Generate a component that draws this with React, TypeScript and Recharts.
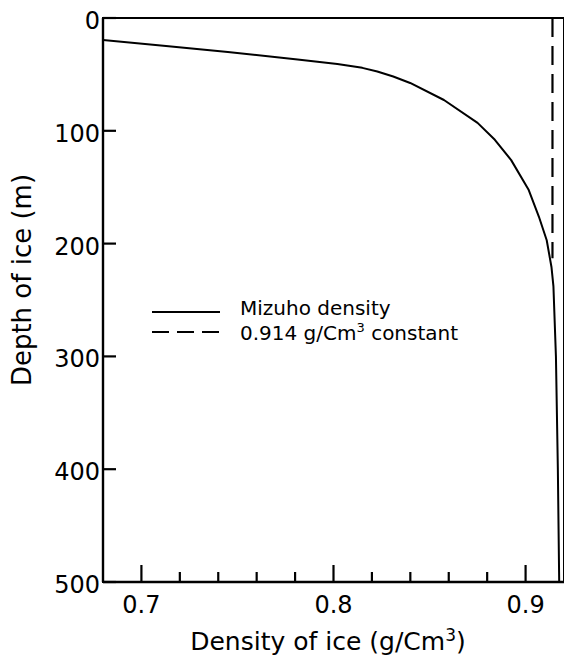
import React from 'react';
import { ScatterChart, Scatter, XAxis, YAxis, ReferenceArea } from 'recharts';

const mizuhoDepth = [19.5, 24.8, 30.1, 36.8, 40.7, 44.2, 47.4, 51.9, 57.6, 72.7, 93, 108, 126, 152, 176, 197, 221, 238, 300, 400, 500];
const mizuhoDensity = [0.68, 0.7128, 0.745, 0.7813, 0.802, 0.815, 0.8228, 0.8311, 0.8399, 0.8575, 0.875, 0.884, 0.8925, 0.9015, 0.9069, 0.911, 0.9135, 0.9145, 0.9158, 0.9168, 0.9175];
const constDepth = [0, 213];
const constDensity = [0.914, 0.914];
const xTicks = [0.7, 0.72, 0.74, 0.76, 0.78, 0.8, 0.82, 0.84, 0.86, 0.88, 0.9];
const yTicks = [0, 100, 200, 300, 400, 500];
const legendLabels = ['Mizuho density', '0.914 g/Cm'];

const mizuho = mizuhoDepth.map((d, i) => ({ depth: d, density: mizuhoDensity[i] }));
const constant = constDepth.map((d, i) => ({ depth: d, density: constDensity[i] }));

const FONT = '"DejaVu Sans", sans-serif';

const renderXTick = (props: any) => {
  const { x, y, payload } = props;
  const v = payload.value as number;
  const major = Math.abs(v * 10 - Math.round(v * 10)) < 1e-6;
  return (
    <g key={`xt-${v}`}>
      <line x1={x} x2={x} y1={y} y2={y - (major ? 17 : 10)} stroke="#000" strokeWidth={2.2} />
      {major && (
        <text x={x} y={y + 31} textAnchor="middle" fontSize={24} fontFamily={FONT} fill="#000">
          {v.toFixed(1)}
        </text>
      )}
    </g>
  );
};

const renderYTick = (props: any) => {
  const { x, y, payload } = props;
  return (
    <g key={`yt-${payload.value}`}>
      <line x1={x} x2={x + 13} y1={y} y2={y} stroke="#000" strokeWidth={2.2} />
      <text x={x - 3} y={y + 11} textAnchor="end" fontSize={24} fontFamily={FONT} fill="#000">
        {payload.value}
      </text>
    </g>
  );
};

const NoShape = () => <g />;

export default function App() {
  const W = 560;
  const H = 647;
  return (
    <div style={{ position: 'relative', width: W, height: H }}>
      <ScatterChart width={W} height={H} margin={{ top: 10, right: 4, bottom: 72, left: 94 }}>
        <XAxis
          type="number"
          dataKey="density"
          domain={[0.68, 0.92]}
          allowDataOverflow
          ticks={xTicks}
          interval={0}
          tickSize={0}
          tickMargin={0}
          height={1}
          axisLine={{ stroke: '#000', strokeWidth: 2.4 }}
          tickLine={false}
          tick={renderXTick}
        />
        <YAxis
          type="number"
          dataKey="depth"
          domain={[0, 500]}
          reversed
          allowDataOverflow
          ticks={yTicks}
          interval={0}
          tickSize={0}
          tickMargin={0}
          width={1}
          axisLine={{ stroke: '#000', strokeWidth: 2.4 }}
          tickLine={false}
          tick={renderYTick}
        />
        <ReferenceArea x1={0.68} x2={0.92} y1={0} y2={500} fill="none" stroke="#000" strokeWidth={2} ifOverflow="visible" />
        <Scatter
          data={mizuho}
          line={{ stroke: '#000', strokeWidth: 2, strokeLinejoin: 'round' }}
          lineType="joint"
          lineJointType="linear"
          shape={<NoShape />}
          isAnimationActive={false}
        />
        <Scatter
          data={constant}
          line={{ stroke: '#000', strokeWidth: 2.2, strokeDasharray: '19 9' }}
          lineType="joint"
          shape={<NoShape />}
          isAnimationActive={false}
        />
      </ScatterChart>
      <svg width={W} height={H} style={{ position: 'absolute', left: 0, top: 0, pointerEvents: 'none' }}>
        <text
          transform="translate(23,272) rotate(-90)"
          textAnchor="middle"
          fontSize={26}
          fontFamily={FONT}
          fill="#000"
        >
          Depth of ice (m)
        </text>
        <text x={320} y={642} textAnchor="middle" fontSize={25} fontFamily={FONT} fill="#000">
          Density of ice (g/Cm<tspan dy={-9} fontSize={17}>3</tspan>
          <tspan dy={9}>)</tspan>
        </text>
        <line x1={144} x2={212} y1={304} y2={304} stroke="#000" strokeWidth={2} />
        <text x={232} y={307} fontSize={20} fontFamily={FONT} fill="#000">
          {legendLabels[0]}
        </text>
        <line x1={144} x2={212} y1={324} y2={324} stroke="#000" strokeWidth={2} strokeDasharray="17 8" />
        <text x={232} y={332} fontSize={20} fontFamily={FONT} fill="#000">
          {legendLabels[1]}
          <tspan dy={-8} fontSize={13}>3</tspan>
          <tspan dy={8}> constant</tspan>
        </text>
      </svg>
    </div>
  );
}
